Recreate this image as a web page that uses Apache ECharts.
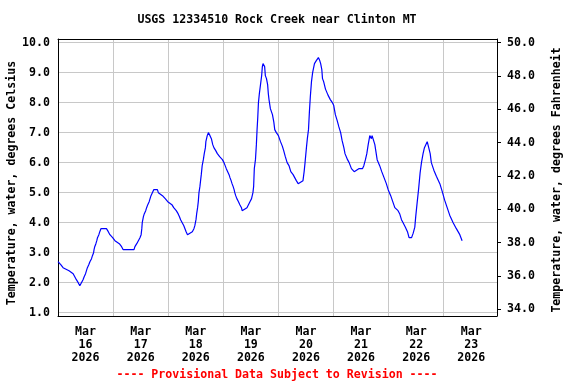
<!DOCTYPE html>
<html>
<head>
<meta charset="utf-8">
<script src="https://cdn.jsdelivr.net/npm/echarts@6/dist/echarts.min.js"></script>
<style>
html,body{margin:0;padding:0;background:#fff;}
#chart{width:576px;height:384px;}
</style>
</head>
<body>
<div id="chart"></div>
<script>
// Hours since Mar 16 2026 00:00
var hours = [
0,1.2,2.2,4.8,6.6,7.3,8.0,8.8,9.5,10.2,10.9,11.4,12.0,12.4,12.8,13.4,13.9,14.6,15.0,15.5,15.7,16.0,16.5,16.9,17.2,17.8,18.2,18.7,21.1,21.9,22.6,23.8,24.8,26.7,27.7,28.4,33.1,33.5,34.3,35.0,35.7,36.2,36.5,36.7,37.2,37.6,38.2,38.6,39.1,39.7,40.1,40.5,41.1,41.7,43.3,43.7,45.5,46.7,47.8,49.6,
50.4,51.5,52.3,52.9,53.4,54.1,54.8,55.3,55.8,56.4,58.5,59.2,59.6,60.1,60.4,60.8,61.1,61.4,61.8,62.1,62.4,62.8,63.3,63.7,64.2,64.4,65.0,65.5,66.2,66.8,67.4,67.9,68.7,69.4,70.4,71.6,72.3,72.8,73.3,73.9,74.5,74.9,75.4,75.8,76.3,76.7,77.0,77.4,77.9,78.6,79.2,79.9,80.2,82.3,83.6,84.3,84.9,
85.2,85.5,86.0,86.4,86.7,87.0,87.3,87.7,88.2,88.7,89.0,89.3,90.0,90.3,90.8,91.3,91.6,91.9,92.5,93.4,94.0,94.4,95.1,96.0,96.9,97.7,98.3,99.0,99.8,100.6,101.4,102.4,103.1,103.8,104.6,106.7,107.2,107.6,108.2,108.6,109.1,109.5,109.9,110.4,110.9,111.7,112.5,113.4,114.0,114.4,114.9,115.2,
115.7,116.5,117.6,118.6,119.5,120.1,120.8,121.6,122.3,123.1,123.7,124.5,125.0,126.1,126.8,127.8,129.0,131.0,132.6,133.2,133.9,134.5,135.1,135.8,136.5,136.8,137.5,138.0,138.4,139.0,140.1,141.0,142.0,143.0,143.8,144.9,145.8,
146.7,148.1,148.8,149.6,150.3,151.3,152.2,152.9,154.0,154.7,155.4,155.8,156.4,157.1,157.7,158.3,159.0,159.6,160.2,160.8,161.3,162.1,162.6,163.7,164.8,166.3,167.3,168.4,169.5,170.6,172.1,173.5,175.0,176.0
];
var tempC = [
2.7,2.6,2.5,2.4,2.3,2.2,2.1,2.0,1.9,2.0,2.1,2.2,2.3,2.4,2.5,2.6,2.7,2.8,2.9,3.0,3.1,3.2,3.3,3.4,3.5,3.6,3.7,3.8,3.8,3.7,3.6,3.5,3.4,3.3,3.2,3.1,3.1,3.2,3.3,3.4,3.5,3.6,3.8,4.0,4.2,4.3,4.4,4.5,4.6,4.7,4.8,4.9,5.0,5.1,5.1,5.0,4.9,4.8,4.7,4.6,
4.5,4.4,4.3,4.2,4.1,4.0,3.9,3.8,3.7,3.6,3.7,3.8,3.9,4.1,4.3,4.5,4.7,5.0,5.2,5.4,5.6,5.9,6.1,6.3,6.5,6.7,6.9,7.0,6.9,6.8,6.6,6.5,6.4,6.3,6.2,6.1,6.0,5.9,5.8,5.7,5.6,5.5,5.4,5.3,5.2,5.1,5.0,4.9,4.8,4.7,4.6,4.5,4.4,4.5,4.7,4.8,5.0,
5.2,5.8,6.1,6.6,7.1,7.5,8.0,8.3,8.6,8.9,9.2,9.3,9.2,8.9,8.8,8.6,8.3,8.1,7.8,7.6,7.35,7.1,7.0,6.9,6.7,6.55,6.4,6.2,6.0,5.9,5.7,5.6,5.5,5.4,5.3,5.4,5.7,6.0,6.5,6.8,7.1,7.7,8.2,8.7,9.0,9.3,9.4,9.5,9.4,9.3,9.1,8.8,
8.7,8.45,8.25,8.1,8.0,7.9,7.6,7.4,7.2,7.0,6.75,6.5,6.3,6.1,6.0,5.8,5.7,5.8,5.8,5.9,6.1,6.3,6.6,6.9,6.8,6.9,6.9,6.6,6.4,6.1,5.9,5.7,5.5,5.3,5.1,4.9,4.7,
4.5,4.4,4.3,4.1,4.0,3.85,3.7,3.5,3.5,3.65,3.85,4.2,4.65,5.15,5.65,6.0,6.3,6.5,6.6,6.7,6.55,6.3,6.0,5.75,5.55,5.3,5.05,4.75,4.5,4.25,4.0,3.8,3.6,3.4
];
var celsiusTicks = [1,2,3,4,5,6,7,8,9,10];
var fahrenheitTicks = [34,36,38,40,42,44,46,48,50];
var dayLabelHours = [12,36,60,84,108,132,156,180];
var dayLabels = ['Mar\n16\n2026','Mar\n17\n2026','Mar\n18\n2026','Mar\n19\n2026','Mar\n20\n2026','Mar\n21\n2026','Mar\n22\n2026','Mar\n23\n2026'];
var titleText = 'USGS 12334510 Rock Creek near Clinton MT';
var leftName = 'Temperature, water, degrees Celsius';
var rightName = 'Temperature, water, degrees Fahrenheit';
var footerText = '---- Provisional Data Subject to Revision ----';

var FONT = 'DejaVu Sans Mono';
var FS = 11.6;
var cMin = 0.89, cMax = 10.12;

var seriesData = hours.map(function (h, i) { return [h, tempC[i]]; });
var chart = echarts.init(document.getElementById('chart'), null, {renderer: 'canvas'});
var txt = {fontFamily: FONT, fontWeight: 'bold', fontSize: FS, color: '#000'};
var fontStr = 'bold ' + FS + 'px "' + FONT + '"';
var blackLine = {show: true, onZero: false, lineStyle: {color: '#000', width: 1}};

chart.setOption({
  animation: false,
  backgroundColor: '#fff',
  grid: {left: 58, top: 39, width: 439, height: 277, containLabel: false},
  xAxis: [{
    type: 'value', min: 0, max: 191.2, interval: 24, position: 'bottom',
    axisLine: blackLine,
    axisTick: {show: false},
    splitLine: {show: true, lineStyle: {color: '#c8c8c8', width: 1}},
    axisLabel: Object.assign({
      customValues: dayLabelHours,
      margin: 9, lineHeight: 13, align: 'center',
      formatter: function (v) { var i = dayLabelHours.indexOf(Math.round(v)); return i >= 0 ? dayLabels[i] : ''; }
    }, txt)
  }, {
    type: 'value', min: 0, max: 191.2, position: 'top',
    axisLine: blackLine,
    axisTick: {show: false}, axisLabel: {show: false}, splitLine: {show: false}
  }],
  yAxis: [{
    type: 'value', min: cMin, max: cMax, position: 'left',
    axisLine: blackLine,
    axisTick: {show: false, customValues: celsiusTicks},
    splitLine: {show: true, lineStyle: {color: '#c8c8c8', width: 1}},
    axisLabel: Object.assign({
      customValues: celsiusTicks, margin: 8,
      formatter: function (v) { return v.toFixed(1); }
    }, txt)
  }, {
    type: 'value', min: cMin * 1.8 + 32, max: cMax * 1.8 + 32, position: 'right',
    axisLine: blackLine,
    axisTick: {show: true, inside: false, length: 4, customValues: fahrenheitTicks, lineStyle: {color: '#000'}},
    splitLine: {show: false},
    axisLabel: Object.assign({
      customValues: fahrenheitTicks, margin: 10,
      formatter: function (v) { return v.toFixed(1); }
    }, txt)
  }],
  series: [{
    type: 'line', xAxisIndex: 0, yAxisIndex: 0,
    data: seriesData, showSymbol: false, symbol: 'none',
    lineStyle: {color: '#0000ff', width: 1.2}
  }],
  graphic: [
    {type: 'text', x: 277, y: 20, style: {text: titleText, align: 'center', verticalAlign: 'middle', font: fontStr, fill: '#000'}},
    {type: 'text', x: 12, y: 183, rotation: Math.PI / 2, style: {text: leftName, align: 'center', verticalAlign: 'middle', font: fontStr, fill: '#000'}},
    {type: 'text', x: 557, y: 180, rotation: Math.PI / 2, style: {text: rightName, align: 'center', verticalAlign: 'middle', font: fontStr, fill: '#000'}},
    {type: 'text', x: 277, y: 375, style: {text: footerText, align: 'center', verticalAlign: 'middle', font: fontStr, fill: '#ff0000'}}
  ]
});
</script>
</body>
</html>
